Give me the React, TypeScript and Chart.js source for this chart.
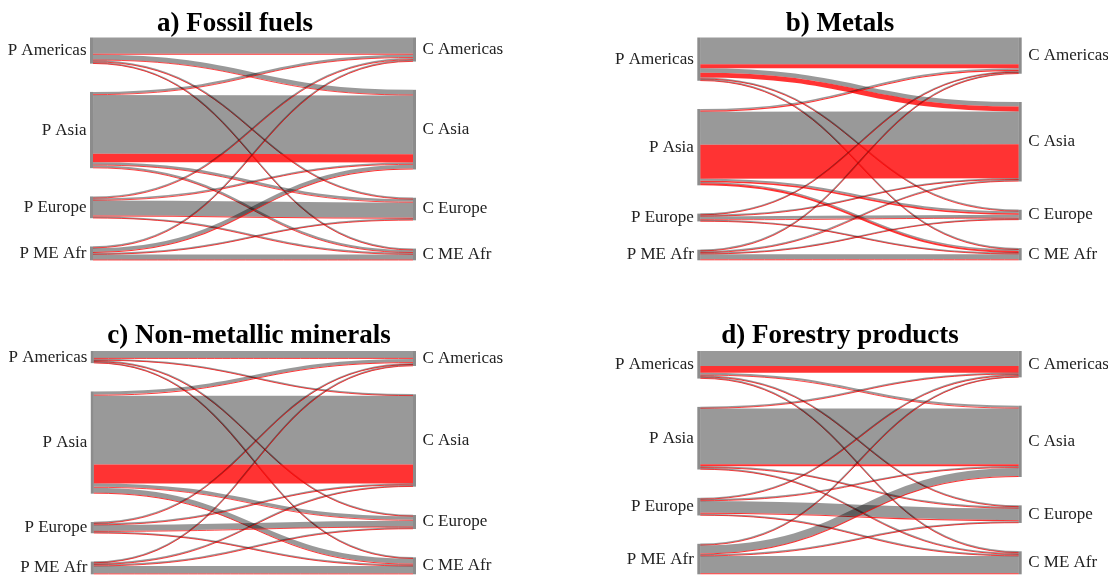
import React, { useEffect, useRef } from 'react';
import { Chart, registerables } from 'chart.js';

Chart.register(...registerables);

// ---------- data ----------
const SOURCES = ['P Americas', 'P Asia', 'P Europe', 'P ME Afr'];
const TARGETS = ['C Americas', 'C Asia', 'C Europe', 'C ME Afr'];
const TITLES = ['a) Fossil fuels', 'b) Metals', 'c) Non-metallic minerals', 'd) Forestry products'];

// rows = producing region (P ...), columns = consuming region (C ...)
const fossilGray = [
  [16.3, 4.8, 1.2, 1.2],
  [2.3, 58.7, 2.5, 2.0],
  [1.5, 1.5, 15.0, 1.2],
  [1.2, 3.8, 1.2, 5.2],
];
const fossilRed = [
  [1.0, 0.8, 0.4, 0.4],
  [0.8, 8.3, 0.8, 0.7],
  [0.5, 0.6, 1.0, 0.4],
  [0.4, 1.0, 0.4, 0.6],
];
const metalsGray = [
  [27.0, 4.5, 1.2, 1.2],
  [1.6, 33.3, 2.0, 1.2],
  [1.0, 1.0, 3.0, 0.9],
  [1.0, 1.0, 0.9, 5.2],
];
const metalsRed = [
  [4.0, 5.0, 0.4, 0.4],
  [1.2, 34.3, 1.5, 2.0],
  [0.4, 0.4, 0.8, 0.4],
  [0.4, 0.8, 0.4, 1.0],
];
const mineralsGray = [
  [7.0, 1.1, 1.0, 1.0],
  [3.3, 69.7, 3.5, 5.0],
  [1.1, 1.1, 6.0, 1.1],
  [1.0, 1.1, 1.1, 7.5],
];
const mineralsRed = [
  [1.0, 0.4, 0.4, 0.4],
  [1.0, 19.3, 0.9, 1.0],
  [0.4, 0.5, 0.8, 0.4],
  [0.4, 0.5, 0.5, 0.8],
];
const forestryGray = [
  [14.7, 2.0, 1.1, 1.1],
  [1.1, 55.0, 1.1, 1.1],
  [1.1, 1.1, 11.5, 1.1],
  [1.1, 8.0, 1.1, 17.0],
];
const forestryRed = [
  [6.7, 0.8, 0.4, 0.4],
  [0.5, 2.0, 0.5, 0.5],
  [0.4, 0.5, 1.2, 0.5],
  [0.4, 1.0, 0.5, 1.0],
];

// ---------- style / layout ----------
const SERIF = "'Liberation Serif', 'Times New Roman', serif";
const GRAY = 'rgba(0,0,0,0.4)';
const RED = 'rgba(255,0,0,0.8)';
const NODE_COLOR = 'rgba(0,0,0,0.45)';
const NODE_PAD = 28.3; // px between nodes
const PLOT_H = 223; // px height of each sankey plot
const NODE_W = 3;
const MIN_GRAY_W = 1.5;
const MIN_RED_W = 0.9;
const CH = 288;

const PANELS = [
  { title: TITLES[0], gray: fossilGray, red: fossilRed, left: -45, top: 0, w: 560, leftW: 135, rightW: 99, titleTop: 10.5, titleBottom: 0, padBottom: 27.7 },
  { title: TITLES[1], gray: metalsGray, red: metalsRed, left: 570, top: 0, w: 540, leftW: 127.3, rightW: 88.3, titleTop: 10.5, titleBottom: 0, padBottom: 27.7 },
  { title: TITLES[2], gray: mineralsGray, red: mineralsRed, left: -21.5, top: 288, w: 540, leftW: 111.8, rightW: 103, titleTop: 35, titleBottom: 1, padBottom: 1.7 },
  { title: TITLES[3], gray: forestryGray, red: forestryRed, left: 570, top: 288, w: 540, leftW: 127.3, rightW: 88.3, titleTop: 35, titleBottom: 1, padBottom: 1.7 },
];

function computeLayout(gray: number[][], red: number[][]) {
  const srcTot = SOURCES.map((_, i) => TARGETS.reduce((s, __, j) => s + gray[i][j] + red[i][j], 0));
  const tgtTot = TARGETS.map((_, j) => SOURCES.reduce((s, __, i) => s + gray[i][j] + red[i][j], 0));
  const total = Math.max(srcTot.reduce((a, b) => a + b, 0), tgtTot.reduce((a, b) => a + b, 0));
  const gap = (NODE_PAD * total) / (PLOT_H - 3 * NODE_PAD);
  const stack = (tots: number[]) => {
    const ys: number[] = [];
    let acc = 0;
    tots.forEach((t) => {
      ys.push(acc);
      acc += t + gap;
    });
    return ys;
  };
  const srcY = stack(srcTot);
  const tgtY = stack(tgtTot);
  return {
    srcTot,
    tgtTot,
    srcY,
    tgtY,
    srcC: srcY.map((y, i) => y + srcTot[i] / 2),
    tgtC: tgtY.map((y, i) => y + tgtTot[i] / 2),
    max: total + 3 * gap,
  };
}

function nearestIndex(arr: number[], v: number) {
  let best = 0;
  arr.forEach((a, i) => {
    if (Math.abs(a - v) < Math.abs(arr[best] - v)) best = i;
  });
  return best;
}

function Panel({ p }: { p: (typeof PANELS)[number] }) {
  const ref = useRef<HTMLCanvasElement>(null);
  useEffect(() => {
    if (!ref.current) return;
    const lay = computeLayout(p.gray, p.red);
    const sankey = {
      id: 'sankeyFlows',
      beforeDatasetsDraw(chart: any) {
        const { ctx } = chart;
        const xs = chart.scales.x;
        const ys = chart.scales.y;
        const xL = xs.getPixelForValue(0);
        const xR = xs.getPixelForValue(1);
        const x0 = xL + NODE_W;
        const x1 = xR - NODE_W;
        const xm = (x0 + x1) / 2;
        const px = (v: number) => ys.getPixelForValue(v);
        const sOff = lay.srcY.slice();
        const tOff = lay.tgtY.slice();
        ctx.save();
        ctx.lineCap = 'butt';
        SOURCES.forEach((_, i) => {
          TARGETS.forEach((__, j) => {
            const parts: [number, string, number][] = [
              [p.gray[i][j], GRAY, MIN_GRAY_W],
              [p.red[i][j], RED, MIN_RED_W],
            ];
            parts.forEach(([v, color, minW]) => {
              const a = px(sOff[i] + v / 2);
              const b = px(tOff[j] + v / 2);
              sOff[i] += v;
              tOff[j] += v;
              const w = Math.abs(px(v) - px(0));
              ctx.beginPath();
              ctx.moveTo(x0, a);
              ctx.bezierCurveTo(xm, a, xm, b, x1, b);
              ctx.lineWidth = Math.max(minW, w);
              ctx.strokeStyle = color;
              ctx.stroke();
            });
          });
        });
        ctx.fillStyle = NODE_COLOR;
        SOURCES.forEach((_, i) => {
          const t = px(lay.srcY[i]);
          const b = px(lay.srcY[i] + lay.srcTot[i]);
          ctx.fillRect(xL, t, NODE_W, b - t);
        });
        TARGETS.forEach((_, j) => {
          const t = px(lay.tgtY[j]);
          const b = px(lay.tgtY[j] + lay.tgtTot[j]);
          ctx.fillRect(xR - NODE_W, t, NODE_W, b - t);
        });
        ctx.restore();
      },
    };
    const tickFont = { family: SERIF, size: 17 };
    const chart = new Chart(ref.current, {
      type: 'scatter',
      data: { datasets: [{ data: [] }] },
      plugins: [sankey],
      options: {
        animation: false,
        responsive: false,
        maintainAspectRatio: false,
        events: [],
        layout: { padding: { left: 0, right: 0, top: 0, bottom: p.padBottom } },
        plugins: {
          legend: { display: false },
          tooltip: { enabled: false },
          title: {
            display: true,
            text: p.title,
            color: '#000',
            font: { family: SERIF, size: 27, weight: 'bold', lineHeight: 1 },
            padding: { top: p.titleTop, bottom: p.titleBottom },
          },
        },
        scales: {
          x: { type: 'linear', display: false, min: 0, max: 1 },
          y: {
            type: 'linear',
            position: 'left',
            min: 0,
            max: lay.max,
            reverse: true,
            grid: { display: false, drawTicks: false },
            border: { display: false },
            ticks: {
              autoSkip: false,
              padding: 3.5,
              color: '#222',
              font: tickFont,
              callback: (v: any) => SOURCES[nearestIndex(lay.srcC, Number(v))],
            },
            afterBuildTicks: (s: any) => {
              s.ticks = lay.srcC.map((v) => ({ value: v }));
            },
            afterFit: (s: any) => {
              s.width = p.leftW;
              s.paddingTop = 0;
              s.paddingBottom = 0;
            },
          },
          y2: {
            type: 'linear',
            axis: 'y',
            position: 'right',
            min: 0,
            max: lay.max,
            reverse: true,
            grid: { display: false, drawTicks: false },
            border: { display: false },
            ticks: {
              autoSkip: false,
              padding: 6.5,
              color: '#222',
              font: tickFont,
              callback: (v: any) => TARGETS[nearestIndex(lay.tgtC, Number(v))],
            },
            afterBuildTicks: (s: any) => {
              s.ticks = lay.tgtC.map((v) => ({ value: v }));
            },
            afterFit: (s: any) => {
              s.width = p.rightW;
              s.paddingTop = 0;
              s.paddingBottom = 0;
            },
          },
        },
      } as any,
    });
    return () => chart.destroy();
  }, [p]);
  return (
    <canvas
      ref={ref}
      width={p.w}
      height={CH}
      style={{ position: 'absolute', left: p.left, top: p.top, width: p.w, height: CH, display: 'block' }}
    />
  );
}

export default function App() {
  return (
    <div style={{ position: 'fixed', left: 0, top: 0, width: 1108, height: 576, background: '#fff', overflow: 'hidden' }}>
      {PANELS.map((p) => (
        <Panel key={p.title} p={p} />
      ))}
    </div>
  );
}
